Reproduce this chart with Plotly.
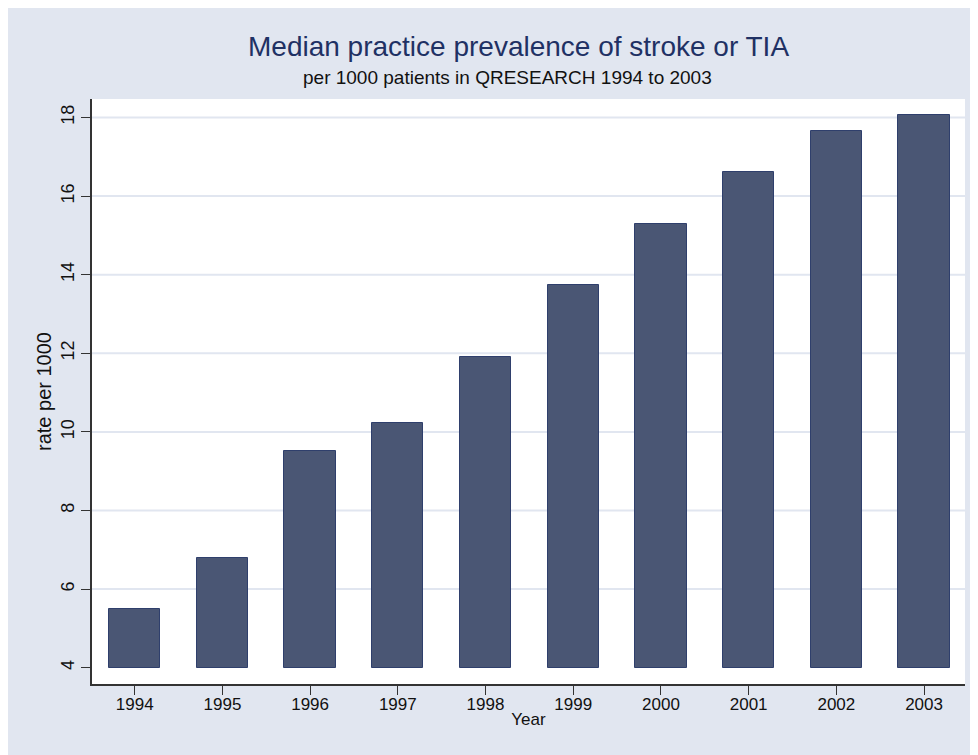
import plotly.graph_objs as go

# data
years = [1994, 1995, 1996, 1997, 1998, 1999, 2000, 2001, 2002, 2003]
rates = [5.49, 6.79, 9.51, 10.23, 11.90, 13.74, 15.29, 16.61, 17.66, 18.06]
y_ticks = [4, 6, 8, 10, 12, 14, 16, 18]
bar_base = 4

BG = '#E1E6F0'
BAR = '#4A5674'
FONT = 'Liberation Sans, Arial, sans-serif'

fig = go.Figure(go.Bar(
    x=years,
    y=[r - bar_base for r in rates],
    base=bar_base,
    width=0.585,
    marker=dict(color=BAR, line=dict(color='#2F3F6C', width=1)),
))

# gridlines only above the baseline, like the stata original
for v in y_ticks[1:]:
    fig.add_hline(y=v, line=dict(color=BG, width=2), layer='below')

fig.update_layout(
    width=978,
    height=755,
    paper_bgcolor=BG,
    plot_bgcolor='white',
    showlegend=False,
    bargap=0,
    font=dict(family=FONT, color='#111111'),
    margin=dict(l=84, r=21, t=91, b=79),
    xaxis=dict(
        range=[1993.513, 2003.467],
        tickvals=years,
        ticks='outside',
        ticklen=9,
        tickcolor='#333333',
        tickfont=dict(size=17),
        ticklabelstandoff=-5,
        showgrid=False,
        zeroline=False,
        showline=True,
        linecolor='#333333',
        linewidth=1.5,
        title=dict(text='Year', font=dict(size=17), standoff=0),
    ),
    yaxis=dict(
        range=[3.585, 18.47],
        tickvals=y_ticks,
        tickangle=-90,
        ticks='outside',
        ticklen=9,
        tickcolor='#333333',
        tickfont=dict(size=18),
        showgrid=False,
        zeroline=False,
        showline=True,
        linecolor='#333333',
        linewidth=1.5,
        title=dict(text='rate per 1000', font=dict(size=20), standoff=1),
    ),
    annotations=[
        dict(text='Median practice prevalence of stroke or TIA',
             xref='paper', yref='paper', x=0.4885, y=1.0,
             yshift=53, xanchor='center', yanchor='middle', showarrow=False,
             font=dict(size=28, color='#1F3164')),
        dict(text='per 1000 patients in QRESEARCH 1994 to 2003',
             xref='paper', yref='paper', x=0.4765, y=1.0,
             yshift=22, xanchor='center', yanchor='middle', showarrow=False,
             font=dict(size=19, color='#111111')),
    ],
)

fig.write_html('out.html')
